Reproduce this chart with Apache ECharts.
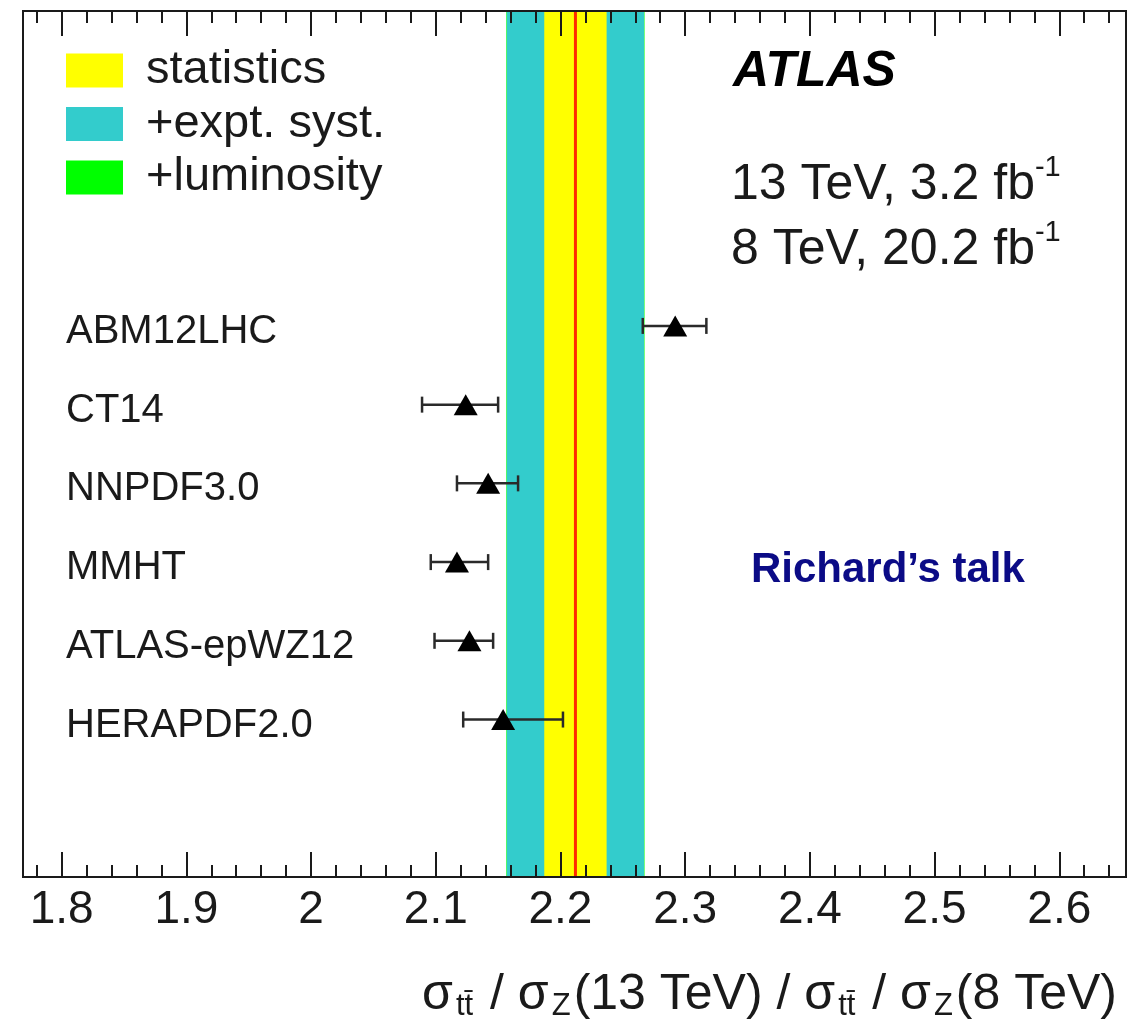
<!DOCTYPE html>
<html>
<head>
<meta charset="utf-8">
<script src="https://cdn.jsdelivr.net/npm/echarts@6/dist/echarts.min.js"></script>
<style>
  html, body { margin: 0; padding: 0; background: #ffffff; }
  #chart { width: 1146px; height: 1023px; }
</style>
</head>
<body>
<div id="chart"></div>
<script>
// PDF predictions for the ttbar/Z cross-section double ratio
const pdfSets   = ['ABM12LHC', 'CT14', 'NNPDF3.0', 'MMHT', 'ATLAS-epWZ12', 'HERAPDF2.0'];
const predCentral = [2.292, 2.124, 2.142, 2.117, 2.127, 2.154];
const predLow     = [2.266, 2.089, 2.117, 2.096, 2.099, 2.122];
const predHigh    = [2.317, 2.150, 2.166, 2.142, 2.146, 2.202];

// Measurement and its uncertainty bands
const measured = 2.212;
const statBand = [2.187, 2.237];
const systBand = [2.157, 2.267];
const lumiBand = [2.1566, 2.2674];

// Vertical slots (bottom to top); blanks leave empty rows
const rows = ['', '', 'HERAPDF2.0', 'ATLAS-epWZ12', 'MMHT', 'NNPDF3.0', 'CT14', 'ABM12LHC', '', '', '', ''];

// Axis ticks
const xMin = 1.769, xMax = 2.6535;
const majorTicks = [1.8, 1.9, 2.0, 2.1, 2.2, 2.3, 2.4, 2.5, 2.6];
const tickLabels = ['1.8', '1.9', '2', '2.1', '2.2', '2.3', '2.4', '2.5', '2.6'];
const minorTicks = [];
for (let v = 1.78; v < xMax; v += 0.02) minorTicks.push(Math.round(v * 100) / 100);

const FONT = '"Liberation Sans", Arial, Helvetica, sans-serif';
const INK = '#1a1a1a';

function bandSeries(name, color, band, z) {
  return {
    name: name,
    type: 'custom',
    xAxisIndex: 0,
    yAxisIndex: 0,
    z: z,
    silent: true,
    itemStyle: { color: color },
    data: [[band[0], band[1]]],
    encode: { x: [0, 1] },
    renderItem: function (params, api) {
      const cs = params.coordSys;
      const x0 = api.coord([api.value(0), rows[0]])[0];
      const x1 = api.coord([api.value(1), rows[0]])[0];
      return {
        type: 'rect',
        shape: { x: x0, y: cs.y, width: x1 - x0, height: cs.height },
        style: { fill: color }
      };
    }
  };
}

const chart = echarts.init(document.getElementById('chart'), null, { renderer: 'canvas' });

function xAxisDef(position, ticks, len, withLabels) {
  return {
    type: 'value',
    position: position,
    min: xMin,
    max: xMax,
    z: 10,
    splitLine: { show: false },
    axisLine: { show: withLabels !== null, lineStyle: { color: INK, width: 2 } },
    axisTick: {
      show: true, inside: true, length: len,
      customValues: ticks,
      lineStyle: { color: INK, width: 2 }
    },
    axisLabel: withLabels ? {
      show: true,
      customValues: majorTicks,
      margin: 10,
      fontFamily: FONT,
      fontSize: 46,
      color: INK,
      formatter: function (v) {
        const i = majorTicks.findIndex(t => Math.abs(t - v) < 1e-6);
        return i >= 0 ? tickLabels[i] : '';
      }
    } : { show: false }
  };
}

const option = {
  backgroundColor: '#ffffff',
  animation: false,
  grid: {
    left: 23, right: 20, top: 11, bottom: 146,
    show: true,
    backgroundColor: '#ffffff',
    borderColor: INK,
    borderWidth: 2
  },
  legend: {
    orient: 'vertical',
    left: 66,
    top: 47,
    padding: 0,
    itemWidth: 57,
    itemHeight: 34,
    itemGap: 6.5,
    icon: 'rect',
    selectedMode: false,
    data: ['statistics', '+expt. syst.', '+luminosity'],
    textStyle: { fontFamily: FONT, fontSize: 47, color: INK, padding: [0, 0, 0, 18] }
  },
  xAxis: [
    xAxisDef('bottom', majorTicks, 25, true),
    xAxisDef('bottom', minorTicks, 12, null),
    xAxisDef('top', majorTicks, 25, false),
    xAxisDef('top', minorTicks, 12, null)
  ],
  yAxis: {
    type: 'category',
    data: rows,
    boundaryGap: false,
    axisLine: { show: false },
    axisTick: { show: false },
    splitLine: { show: false },
    z: 10,
    axisLabel: {
      show: true,
      inside: true,
      interval: 0,
      margin: 43,
      fontFamily: FONT,
      fontSize: 40,
      color: INK,
      verticalAlign: 'top',
      lineHeight: 12
    }
  },
  graphic: [
    {
      type: 'text',
      left: 733, top: 47,
      style: { text: 'ATLAS', fontFamily: FONT, fontSize: 50, fontWeight: 'bold', fontStyle: 'italic', fill: '#000' }
    },
    {
      type: 'text',
      left: 731, top: 153,
      style: {
        text: '13 TeV, 3.2 fb{sup|-1}\n8 TeV, 20.2 fb{sup|-1}',
        fontFamily: FONT, fontSize: 50, fill: INK, lineHeight: 65,
        rich: { sup: { fontSize: 29, fontFamily: FONT, fill: INK, verticalAlign: 'top', lineHeight: 65, padding: [0, 0, 28, 0] } }
      }
    },
    {
      type: 'text',
      left: 751, top: 549,
      style: { text: 'Richard\u2019s talk', fontFamily: FONT, fontSize: 42, fontWeight: 'bold', fill: '#0b0b86' }
    },
    {
      type: 'text',
      right: 29, top: 955,
      style: {
        text: '\u03c3{s|tt\u0304} / \u03c3{s|Z}(13 TeV) / \u03c3{s|tt\u0304} / \u03c3{s|Z}(8 TeV)',
        fontFamily: FONT, fontSize: 50, fill: INK, lineHeight: 54,
        rich: { s: { fontSize: 31, fontFamily: FONT, fill: INK, verticalAlign: 'bottom', lineHeight: 54, padding: [36, 3, 0, 3] } }
      }
    }
  ],
  series: [
    bandSeries('+luminosity', '#00ff00', lumiBand, 1),
    bandSeries('+expt. syst.', '#33cccc', systBand, 2),
    bandSeries('statistics', '#ffff00', statBand, 3),
    {
      name: 'measurement',
      type: 'custom',
      z: 4,
      silent: true,
      data: [[measured]],
      encode: { x: 0 },
      renderItem: function (params, api) {
        const cs = params.coordSys;
        const x = api.coord([api.value(0), rows[0]])[0];
        return {
          type: 'line',
          shape: { x1: x, y1: cs.y, x2: x, y2: cs.y + cs.height },
          style: { stroke: '#ff2a00', lineWidth: 3 }
        };
      }
    },
    {
      name: 'errors',
      type: 'custom',
      z: 5,
      silent: true,
      data: pdfSets.map((n, i) => [predLow[i], predHigh[i], n]),
      encode: { x: [0, 1], y: 2 },
      renderItem: function (params, api) {
        const p0 = api.coord([api.value(0), api.value(2)]);
        const p1 = api.coord([api.value(1), api.value(2)]);
        const cap = 8;
        const st = { stroke: '#2a2a2a', lineWidth: 2.5 };
        return {
          type: 'group',
          children: [
            { type: 'line', shape: { x1: p0[0], y1: p0[1], x2: p1[0], y2: p1[1] }, style: st },
            { type: 'line', shape: { x1: p0[0], y1: p0[1] - cap, x2: p0[0], y2: p0[1] + cap }, style: st },
            { type: 'line', shape: { x1: p1[0], y1: p1[1] - cap, x2: p1[0], y2: p1[1] + cap }, style: st }
          ]
        };
      }
    },
    {
      name: 'predictions',
      type: 'scatter',
      z: 6,
      silent: true,
      symbol: 'triangle',
      symbolSize: [24, 21],
      itemStyle: { color: '#000000', opacity: 1 },
      data: pdfSets.map((n, i) => [predCentral[i], n])
    }
  ]
};

chart.setOption(option);
</script>
</body>
</html>
